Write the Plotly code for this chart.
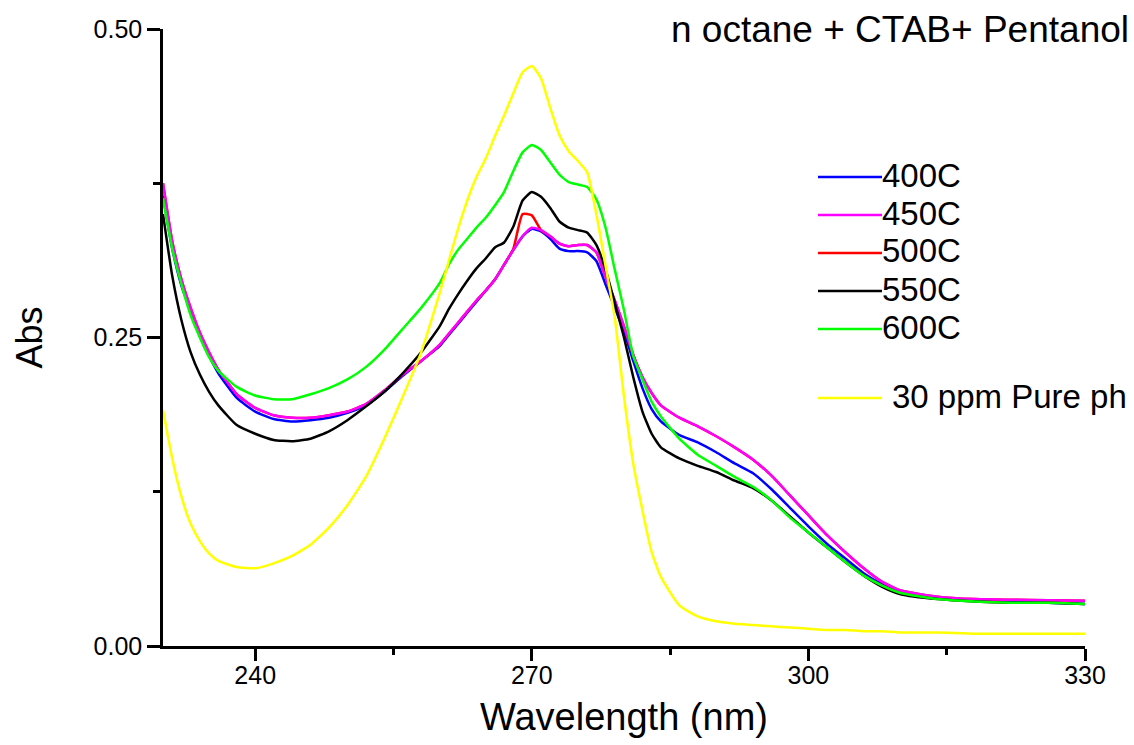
import plotly.graph_objects as go

# ---------------- data ----------------
wavelength = [230, 231, 232, 233, 234, 235, 236, 238, 240, 242, 244, 246, 248, 250, 252, 254, 256, 258,
              260, 261, 262, 263, 264, 265, 266, 267, 268, 269, 270, 271, 272, 273, 274, 275, 276, 277,
              278, 279, 280, 281, 282, 283, 284, 286, 288, 290, 292, 294, 296, 298, 300, 302, 304, 306,
              308, 310, 314, 318, 322, 326, 330]

abs_400C = [0.365, 0.322, 0.292, 0.271, 0.251, 0.235, 0.221, 0.201, 0.190, 0.184, 0.182, 0.183, 0.185,
            0.189, 0.195, 0.206, 0.219, 0.231,
            0.243, 0.252, 0.261, 0.270, 0.279, 0.288, 0.297, 0.309, 0.321, 0.332, 0.338, 0.336, 0.330,
            0.322, 0.320, 0.320, 0.319, 0.312, 0.293, 0.274, 0.255, 0.231, 0.209, 0.192, 0.182,
            0.171, 0.165, 0.157, 0.148, 0.140, 0.127, 0.112, 0.097, 0.083, 0.071, 0.059, 0.050, 0.043,
            0.039, 0.037, 0.036, 0.035, 0.034]

abs_450C = [0.375, 0.328, 0.297, 0.274, 0.254, 0.238, 0.224, 0.204, 0.193, 0.187, 0.185, 0.185, 0.187,
            0.190, 0.196, 0.207, 0.220, 0.231,
            0.244, 0.253, 0.262, 0.271, 0.280, 0.288, 0.297, 0.309, 0.321, 0.332, 0.339, 0.337, 0.332,
            0.326, 0.324, 0.325, 0.325, 0.319, 0.299, 0.280, 0.259, 0.236, 0.218, 0.205, 0.195,
            0.185, 0.178, 0.170, 0.161, 0.151, 0.138, 0.122, 0.106, 0.090, 0.076, 0.063, 0.052, 0.045,
            0.040, 0.038, 0.0375, 0.037, 0.0367]

abs_500C = [0.375, 0.328, 0.297, 0.274, 0.254, 0.238, 0.224, 0.204, 0.193, 0.187, 0.185, 0.185, 0.187,
            0.190, 0.196, 0.207, 0.220, 0.231,
            0.244, 0.253, 0.262, 0.271, 0.280, 0.288, 0.297, 0.309, 0.322, 0.350, 0.349, 0.337, 0.332,
            0.326, 0.324, 0.325, 0.325, 0.319, 0.299, 0.280, 0.259, 0.236, 0.218, 0.205, 0.195,
            0.185, 0.178, 0.170, 0.161, 0.151, 0.138, 0.122, 0.106, 0.090, 0.076, 0.063, 0.052, 0.045,
            0.040, 0.038, 0.0375, 0.037, 0.0367]

abs_550C = [0.350, 0.300, 0.264, 0.238, 0.220, 0.206, 0.195, 0.179, 0.172, 0.167, 0.166, 0.168, 0.174,
            0.183, 0.194, 0.206, 0.221, 0.238,
            0.259, 0.273, 0.285, 0.296, 0.306, 0.314, 0.323, 0.327, 0.340, 0.361, 0.368, 0.364, 0.355,
            0.344, 0.339, 0.337, 0.335, 0.325, 0.305, 0.278, 0.250, 0.218, 0.190, 0.172, 0.161,
            0.152, 0.146, 0.141, 0.134, 0.128, 0.118, 0.105, 0.092, 0.080, 0.068, 0.057, 0.048, 0.042,
            0.038, 0.036, 0.035, 0.035, 0.034]

abs_600C = [0.363, 0.322, 0.293, 0.268, 0.250, 0.234, 0.223, 0.210, 0.203, 0.200, 0.200, 0.204, 0.209,
            0.216, 0.226, 0.240, 0.257, 0.274,
            0.294, 0.309, 0.321, 0.330, 0.339, 0.347, 0.357, 0.368, 0.385, 0.400, 0.406, 0.402, 0.392,
            0.382, 0.376, 0.374, 0.372, 0.362, 0.339, 0.305, 0.272, 0.235, 0.216, 0.198, 0.186,
            0.168, 0.155, 0.146, 0.137, 0.129, 0.118, 0.104, 0.092, 0.080, 0.068, 0.057, 0.049, 0.043,
            0.038, 0.036, 0.035, 0.035, 0.034]

abs_pure = [0.191, 0.152, 0.121, 0.099, 0.085, 0.075, 0.069, 0.064, 0.063, 0.067, 0.073, 0.082, 0.096,
            0.114, 0.137, 0.168, 0.202, 0.238,
            0.286, 0.312, 0.338, 0.361, 0.380, 0.395, 0.413, 0.430, 0.448, 0.465, 0.470, 0.460, 0.436,
            0.414, 0.401, 0.393, 0.384, 0.350, 0.308, 0.266, 0.202, 0.148, 0.110, 0.076, 0.056,
            0.033, 0.024, 0.020, 0.018, 0.017, 0.016, 0.015, 0.014, 0.013, 0.013, 0.012, 0.012, 0.011,
            0.011, 0.010, 0.010, 0.010, 0.010]

series_names = ["400C", "450C", "500C", "550C", "600C", "30 ppm Pure ph"]
series_values = [abs_400C, abs_450C, abs_500C, abs_550C, abs_600C, abs_pure]
series_colors = ["#0000FF", "#FF00FF", "#FF0000", "#000000", "#00FF00", "#FFFF00"]
draw_order = [0, 2, 1, 3, 4, 5]

x_ticks = [240, 270, 300, 330]
y_ticks = [0.0, 0.25, 0.5]
y_tick_labels = ["0.00", "0.25", "0.50"]

FONT = "Liberation Sans, Arial, Helvetica, sans-serif"

fig = go.Figure()
for i in draw_order:
    fig.add_trace(go.Scatter(
        x=wavelength, y=series_values[i], mode="lines", name=series_names[i],
        line=dict(color=series_colors[i], width=2.5, shape="spline", smoothing=0.5),
        showlegend=False,
    ))

# ---------------- manual legend ----------------
L, R, T, B = 163, 49, 29, 99
PW, PH = 1134 - L - R, 745 - T - B


def px(xp):
    return (xp - L) / PW


def py(yp):
    return (745 - B - yp) / PH


legend_rows_y = [177, 215, 253, 291, 329, 398]
shapes = []
annotations = []
for i, yrow in enumerate(legend_rows_y):
    shapes.append(dict(type="line", xref="paper", yref="paper",
                       x0=px(818), x1=px(882), y0=py(yrow), y1=py(yrow),
                       line=dict(color=series_colors[i], width=2.5)))
    annotations.append(dict(xref="paper", yref="paper", x=px(880 if i < 5 else 890), y=py(yrow - 2),
                            text=series_names[i], showarrow=False, xanchor="left", yanchor="middle",
                            font=dict(family=FONT, size=33, color="black")))

annotations.append(dict(xref="paper", yref="paper", x=px(1131), y=py(29),
                        text="n octane + CTAB+ Pentanol", showarrow=False,
                        xanchor="right", yanchor="middle",
                        font=dict(family=FONT, size=37, color="black")))

fig.update_layout(
    width=1134, height=745,
    margin=dict(l=L, r=R, t=T, b=B, pad=0),
    paper_bgcolor="white", plot_bgcolor="white",
    font=dict(family=FONT, color="black"),
    shapes=shapes, annotations=annotations,
    xaxis=dict(
        range=[230, 330], showgrid=False, zeroline=False,
        showline=True, linecolor="black", linewidth=2.5,
        ticks="outside", ticklen=12, tickwidth=2.5, tickcolor="black",
        tickvals=x_ticks, ticktext=[str(v) for v in x_ticks],
        tickfont=dict(size=25, family=FONT), ticklabelstandoff=-7,
        minor=dict(tickvals=[255, 285, 315], ticks="outside", ticklen=6, tickwidth=2.5, tickcolor="black"),
        title=dict(text="Wavelength (nm)", font=dict(size=38, family=FONT), standoff=16),
    ),
    yaxis=dict(
        range=[0, 0.5], showgrid=False, zeroline=False,
        showline=True, linecolor="black", linewidth=2.5,
        ticks="outside", ticklen=13, tickwidth=2.5, tickcolor="black",
        tickvals=y_ticks, ticktext=y_tick_labels,
        tickfont=dict(size=25, family=FONT),
        minor=dict(tickvals=[0.125, 0.375], ticks="outside", ticklen=7, tickwidth=2.5, tickcolor="black"),
        title=dict(text="Abs", font=dict(size=36, family=FONT), standoff=40),
    ),
)

fig.write_html("out.html", config={"displayModeBar": False},
               post_script="document.body.style.margin='0';document.body.style.overflow='hidden';")
